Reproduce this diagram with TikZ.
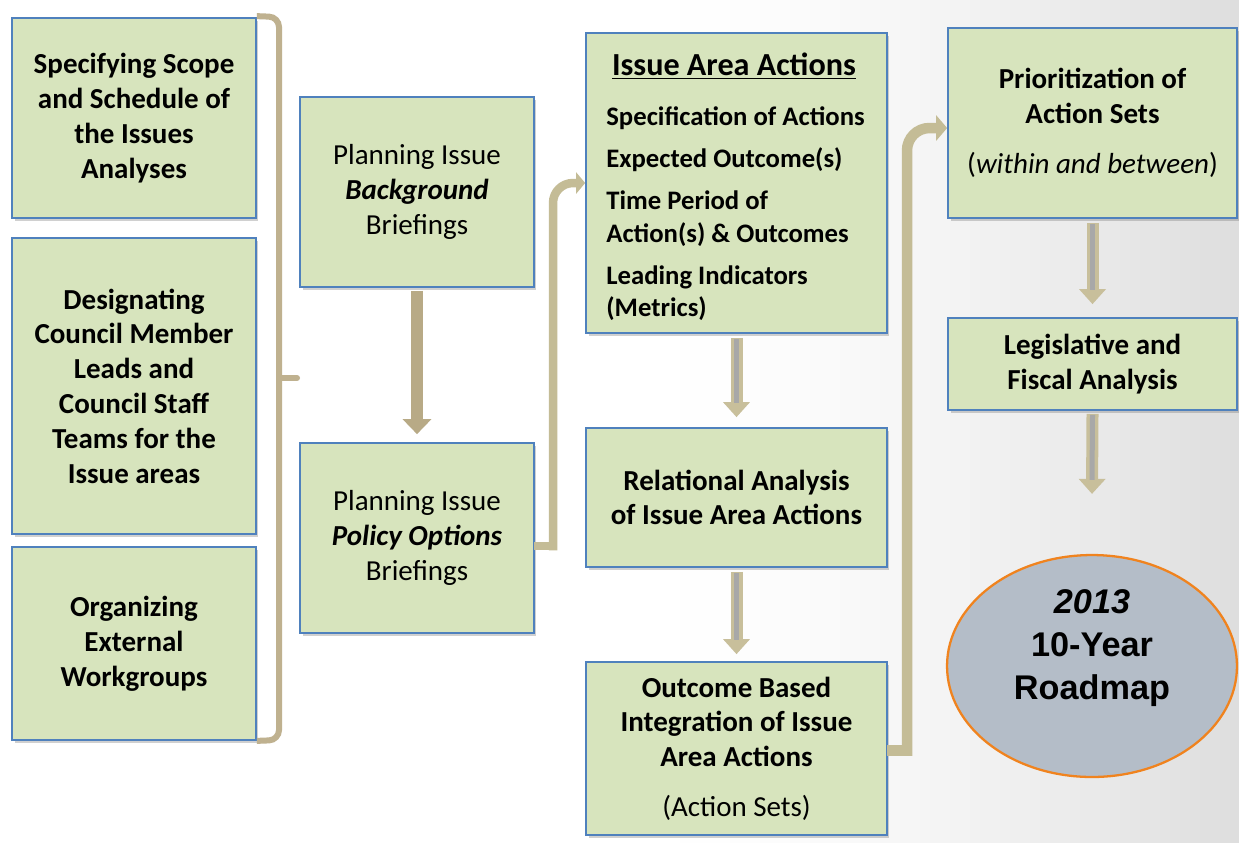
\documentclass[tikz,border=0pt]{standalone}
\usepackage{fontspec}
\setmainfont{Carlito}
\newfontfamily\arialfont{Liberation Sans}
\usetikzlibrary{arrows.meta,shadows,calc,shapes.geometric}
\definecolor{boxfill}{HTML}{D7E4BD}
\definecolor{boxborder}{HTML}{4F81BD}
\definecolor{linktan}{HTML}{C4BC96}
\definecolor{solidtan}{HTML}{B8AA86}
\definecolor{brackettan}{HTML}{BFB18F}
\definecolor{dbltan}{HTML}{C8BF9B}
\definecolor{dblgray}{HTML}{A8A8A8}
\definecolor{roadfill}{HTML}{B4BDC8}
\definecolor{roadborder}{HTML}{F0831E}
\tikzset{
  box/.style={draw=boxborder, line width=1pt, fill=boxfill, inner sep=0pt,
    drop shadow={shadow xshift=0.05cm, shadow yshift=-0.06cm, opacity=0.3, fill=black!60},
    align=center, font=\bfseries\fontsize{16.5}{19.8}\selectfont},
  txt/.style={align=center, inner sep=0pt, font=\bfseries\fontsize{16.5}{19.8}\selectfont},
  link/.style={draw=linktan, line width=0.17cm, -{Triangle[width=0.42cm,length=0.18cm]}},
  linkbar/.style={draw=linktan, line width=0.17cm},
  biglink/.style={draw=linktan, line width=0.21cm, -{Triangle[width=0.5cm,length=0.22cm]}},
  biglinkbar/.style={draw=linktan, line width=0.21cm},
  bracketline/.style={draw=brackettan, line width=0.12cm, rounded corners=0.2cm},
  solidarrow/.style={draw=solidtan, line width=0.24cm, -{Triangle[width=0.56cm,length=0.3cm]}},
  dblout/.style={draw=dbltan, line width=0.24cm, -{Triangle[width=0.52cm,length=0.3cm]}},
  dblin/.style={draw=dblgray, line width=0.1cm},
}
\begin{document}
\begin{tikzpicture}[x=0.02cm,y=-0.02cm]
\useasboundingbox (0,0) rectangle (1239,843);
\fill[white] (0,0) rectangle (1239,843);
\foreach \i in {0,...,59} {
  \pgfmathsetmacro{\shadeval}{13*(\i/59)^1.6}
  \fill[black!\shadeval] (640+\i*10,0) rectangle (651+\i*10,843);
}

% left column
\node[box, minimum width=4.88cm, minimum height=4.0cm] (b1) at (134,118)
  {Specifying Scope\\and Schedule of\\the Issues\\Analyses};
\node[box, minimum width=4.88cm, minimum height=5.92cm] (b2) at (134,386)
  {Designating\\Council Member\\Leads and\\Council Staff\\Teams for the\\Issue areas};
\node[box, minimum width=4.88cm, minimum height=3.86cm] (b3) at (134,643.5)
  {Organizing\\External\\Workgroups};

% second column
\node[box, minimum width=4.68cm, minimum height=3.8cm] (b4) at (417,192)
  {\mdseries Planning Issue\\\textbf{\textit{Background}}\\\mdseries Briefings};
\node[box, minimum width=4.68cm, minimum height=3.8cm] (b5) at (417,538)
  {\mdseries Planning Issue\\\textbf{\textit{Policy Options}}\\\mdseries Briefings};

% third column
\node[box, minimum width=6.02cm, minimum height=6.0cm] (b6) at (736.5,183) {};
\node[txt, font=\bfseries\fontsize{18.3}{22}\selectfont] (b6title) at (734,66) {\underline{Issue Area Actions}};
\node[txt, align=left, anchor=west, font=\bfseries\fontsize{15.2}{18.7}\selectfont] (b6list) at (606,214)
  {Specification of Actions\\[5.1pt]
   Expected Outcome(s)\\[5.1pt]
   Time Period of\\Action(s) \& Outcomes\\[5.1pt]
   Leading Indicators\\(Metrics)};
\node[box, minimum width=6.02cm, minimum height=2.78cm] (b7) at (736.5,497.5)
  {Relational Analysis\\of Issue Area Actions};
\node[box, minimum width=6.02cm, minimum height=3.46cm] (b8) at (736.5,748.5)
  {Outcome Based\\Integration of Issue\\Area Actions\\[8.5pt]\mdseries (Action Sets)};

% fourth column
\node[box, minimum width=5.78cm, minimum height=3.8cm] (b9) at (1092.5,123)
  {Prioritization of\\Action Sets\\[8.5pt]\mdseries (\textit{within and between})};
\node[box, minimum width=5.78cm, minimum height=1.84cm] (b10) at (1092.5,364)
  {Legislative and\\Fiscal Analysis};
\node[ellipse, draw=roadborder, line width=1.3pt, fill=roadfill, minimum width=5.8cm, minimum height=4.44cm, inner sep=0pt] (road) at (1092,666) {};
\node[txt, font=\arialfont\bfseries\fontsize{19.5}{24.4}\selectfont] (roadtxt) at (1092,648)
  {\textit{2013}\\10-Year\\Roadmap};

% bracket
\coordinate (brtip) at (300,378);
\draw[bracketline] ($(b1.north east)+(0,-1)$) -- (279,17) -- (279,740) -- (b3.south east);
\draw[draw=brackettan, line width=0.12cm, line cap=round] (279,378) -- ($(brtip)+(-3,0)$);

% connectors
\draw[solidarrow] ($(b4.south)+(0,3)$) -- ($(b5.north)+(0,-8)$);
\coordinate (c1) at (553,546);
\draw[linkbar] ($(b5.east)+(-1,8)$) -- ($(c1)+(4.25,0)$);
\draw[link, rounded corners=0.4cm] ($(c1)+(0,4.25)$) -- (c1 |- b6.west) -- (b6.west);
\coordinate (c2) at (907,750.5);
\draw[biglinkbar] ($(b8.east)+(-1,2)$) -- ($(c2)+(5.25,0)$);
\draw[biglink, rounded corners=0.45cm] ($(c2)+(0,5.25)$) -- (907,128) -- ($(b9.west)+(0,5)$);

\draw[dblout] ($(b6.south)+(0,4)$) -- ($(b7.north)+(0,-10)$);
\draw[dblin] ($(b6.south)+(0,5)$) -- ($(b7.north)+(0,-24)$);
\draw[dblout] ($(b7.south)+(0,4)$) -- ($(b8.north)+(0,-7)$);
\draw[dblin] ($(b7.south)+(0,5)$) -- ($(b8.north)+(0,-21)$);
\draw[dblout] ($(b9.south)+(0,4)$) -- ($(b10.north)+(0,-13)$);
\draw[dblin] ($(b9.south)+(0,5)$) -- ($(b10.north)+(0,-27)$);
\draw[dblout] ($(b10.south)+(0,3)$) -- ($(road.north)+(0,-60)$);
\draw[dblin] ($(b10.south)+(0,4)$) -- ($(road.north)+(0,-74)$);
\end{tikzpicture}
\end{document}
